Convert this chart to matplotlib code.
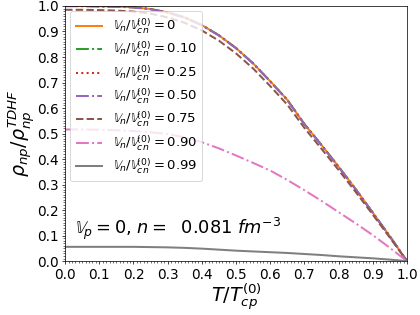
import matplotlib
matplotlib.use("Agg")
import matplotlib.pyplot as plt
from matplotlib.ticker import MultipleLocator

t = [0.0, 0.05, 0.1, 0.15, 0.2, 0.25, 0.3, 0.35, 0.4, 0.45, 0.5,
     0.55, 0.6, 0.65, 0.7, 0.75, 0.8, 0.85, 0.9, 0.95, 1.0]

ratios = ["0", "0.10", "0.25", "0.50", "0.75", "0.90", "0.99"]

v_000 = [1.000, 1.000, 0.999, 0.998, 0.995, 0.988, 0.975, 0.955, 0.925, 0.885, 0.835,
         0.775, 0.705, 0.632, 0.537, 0.455, 0.370, 0.282, 0.190, 0.097, 0.0]
v_010 = [1.000, 1.000, 0.999, 0.998, 0.995, 0.988, 0.975, 0.955, 0.925, 0.885, 0.835,
         0.775, 0.705, 0.632, 0.537, 0.455, 0.370, 0.282, 0.190, 0.097, 0.0]
v_025 = [1.000, 1.000, 0.999, 0.998, 0.995, 0.988, 0.975, 0.955, 0.925, 0.885, 0.835,
         0.775, 0.705, 0.632, 0.537, 0.455, 0.370, 0.282, 0.190, 0.097, 0.0]
v_050 = [0.999, 0.999, 0.998, 0.997, 0.994, 0.987, 0.974, 0.954, 0.924, 0.884, 0.834,
         0.774, 0.704, 0.631, 0.536, 0.454, 0.369, 0.281, 0.189, 0.096, 0.0]
v_075 = [0.985, 0.985, 0.984, 0.982, 0.978, 0.970, 0.955, 0.934, 0.904, 0.864, 0.814,
         0.755, 0.686, 0.613, 0.522, 0.440, 0.357, 0.271, 0.182, 0.092, 0.0]
v_090 = [0.516, 0.516, 0.515, 0.513, 0.510, 0.505, 0.498, 0.485, 0.466, 0.442, 0.414,
         0.385, 0.355, 0.318, 0.278, 0.236, 0.192, 0.148, 0.102, 0.052, 0.0]
v_099 = [0.056, 0.056, 0.056, 0.056, 0.056, 0.055, 0.054, 0.052, 0.049, 0.045, 0.041,
         0.038, 0.035, 0.032, 0.028, 0.024, 0.019, 0.015, 0.011, 0.006, 0.0]

series = [v_000, v_010, v_025, v_050, v_075, v_090, v_099]
colors = ["tab:orange", "tab:green", "tab:red", "tab:purple", "tab:brown", "tab:pink", "tab:gray"]
styles = ["-", "-.", ":", "-.", "--", "-.", "-"]

fig = plt.figure(figsize=(6.4, 4.8), dpi=65.625)
ax = fig.add_axes([0.155, 0.171, 0.814, 0.810])

for r, y, c, ls in zip(ratios, series, colors, styles):
    ax.plot(t, y, color=c, linestyle=ls, linewidth=2.2,
            label=r"$\mathbb{V}_n/\mathbb{V}_{cn}^{(0)} = " + r + "$")

ax.set_xlim(0, 1)
ax.set_ylim(0, 1)
ax.xaxis.set_major_locator(MultipleLocator(0.1))
ax.yaxis.set_major_locator(MultipleLocator(0.1))
ax.xaxis.set_minor_locator(MultipleLocator(0.01))
ax.yaxis.set_minor_locator(MultipleLocator(0.01))
ax.tick_params(labelsize=15)

ax.set_xlabel(r"$T/T_{cp}^{(0)}$", fontsize=21, labelpad=-1)
ax.set_ylabel(r"$\rho_{np}/\rho_{np}^{TDHF}$", fontsize=21, labelpad=0)

ax.text(0.03, 0.105, r"$\mathbb{V}_p = 0$, $n =$  0.081 $fm^{-3}$", fontsize=19.5,
        transform=ax.transData)

ax.legend(loc="upper left", fontsize=14.5, handlelength=2.0, borderaxespad=0.4,
          labelspacing=0.3)

fig.savefig("out.png", dpi=65.625)
